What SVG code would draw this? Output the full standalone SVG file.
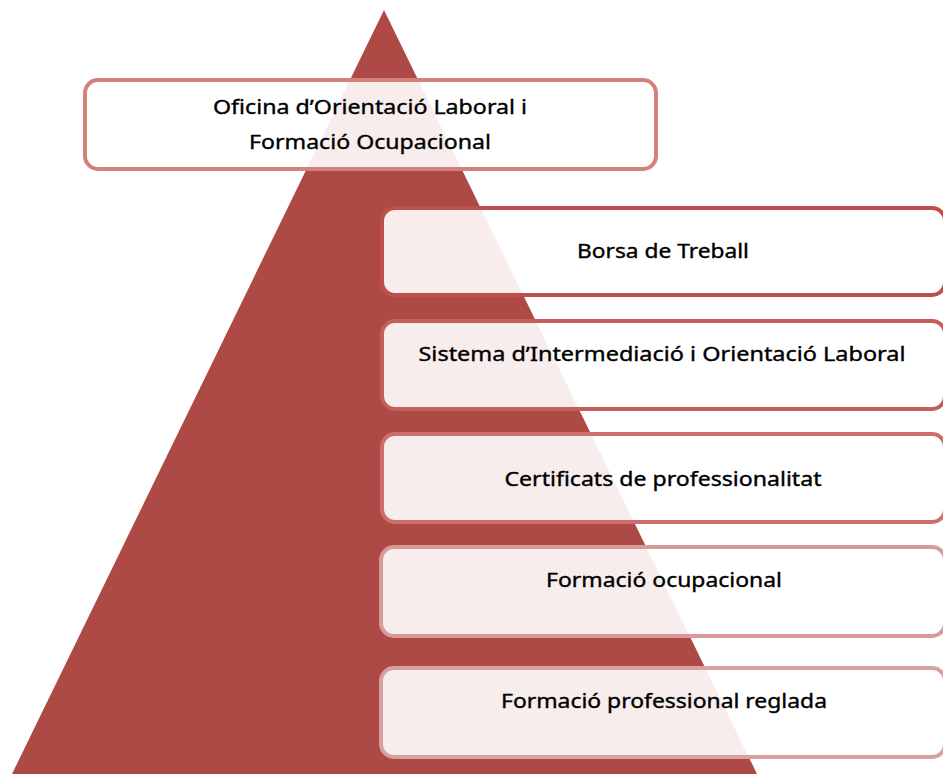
<svg xmlns="http://www.w3.org/2000/svg" width="943" height="774" viewBox="0 0 943 774">
<style>
.box{fill:#ffffff;fill-opacity:0.9;stroke-width:4}
.t{font-family:"Noto Sans","Open Sans","Liberation Sans",sans-serif;font-size:19px;fill:#000;stroke:#000;stroke-width:0.35;text-anchor:middle}
</style>
<rect width="943" height="774" fill="#ffffff"/>
<polygon id="pyramid" points="384,10 12,774 757,774" fill="#ae4a45"/>
<g id="n0">
<rect class="box" x="85" y="80" width="571" height="89" rx="13" stroke="#d4807d"/>
<text class="t" x="370" y="114" textLength="314" lengthAdjust="spacingAndGlyphs">Oficina d’Orientació Laboral i</text>
<text class="t" x="370" y="149" textLength="242" lengthAdjust="spacingAndGlyphs">Formació Ocupacional</text>
</g>
<g id="n1">
<rect class="box" x="382" y="208" width="563" height="87" rx="13" stroke="#bf4f4b"/>
<text class="t" x="663" y="258" textLength="172" lengthAdjust="spacingAndGlyphs">Borsa de Treball</text>
</g>
<g id="n2">
<rect class="box" x="382" y="321" width="563" height="88" rx="13" stroke="#c4605c"/>
<text class="t" x="662" y="361" textLength="487" lengthAdjust="spacingAndGlyphs">Sistema d’Intermediació i Orientació Laboral</text>
</g>
<g id="n3">
<rect class="box" x="382" y="434" width="563" height="88" rx="13" stroke="#cc6f6c"/>
<text class="t" x="663" y="486" textLength="317" lengthAdjust="spacingAndGlyphs">Certificats de professionalitat</text>
</g>
<g id="n4">
<rect class="box" x="381" y="547" width="564" height="89" rx="13" stroke="#d89a99"/>
<text class="t" x="664" y="587" textLength="236" lengthAdjust="spacingAndGlyphs">Formació ocupacional</text>
</g>
<g id="n5">
<rect class="box" x="381" y="668" width="564" height="89" rx="13" stroke="#d9a0a0"/>
<text class="t" x="664" y="708" textLength="326" lengthAdjust="spacingAndGlyphs">Formació professional reglada</text>
</g>
<g id="connectors"/>
</svg>
